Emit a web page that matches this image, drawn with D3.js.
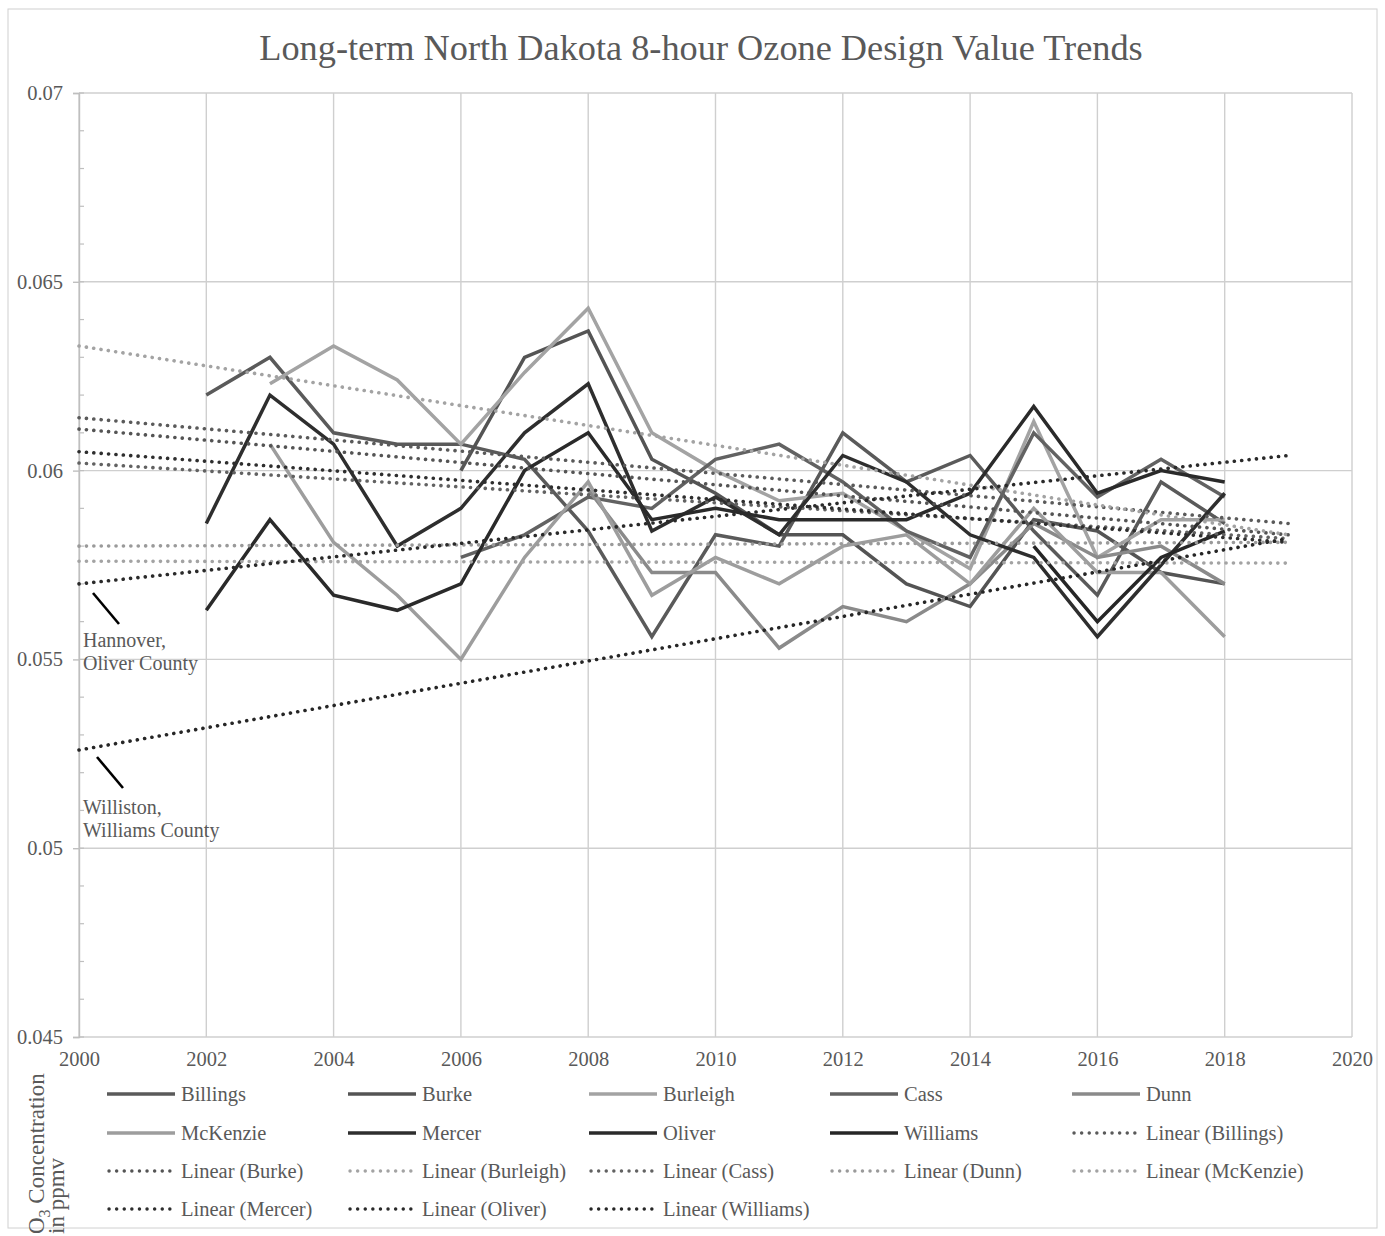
<!DOCTYPE html>
<html><head><meta charset="utf-8">
<script src="https://cdn.jsdelivr.net/npm/d3@7"></script>
<style>body{margin:0;background:#fff}svg{display:block}text{font-family:"Liberation Serif","Times New Roman",serif;fill:#595959}</style>
</head><body><svg id="c" width="1385" height="1236"></svg>
<script>
const years = [2002,2003,2004,2005,2006,2007,2008,2009,2010,2011,2012,2013,2014,2015,2016,2017,2018];
const seriesNames = ["Billings","Burke","Burleigh","Cass","Dunn","McKenzie","Mercer","Oliver","Williams"];
const billings = [0.0620,0.0630,0.0610,0.0607,0.0607,0.0603,0.0584,0.0556,0.0583,0.0580,0.0610,0.0597,0.0604,0.0584,0.0567,0.0597,0.0586];
const burke    = [null,null,null,null,0.0600,0.0630,0.0637,0.0603,0.0594,0.0583,0.0583,0.0570,0.0564,0.0587,0.0584,0.0573,0.0570];
const burleigh = [null,0.0623,0.0633,0.0624,0.0607,0.0626,0.0643,0.0610,0.0600,0.0592,0.0594,0.0584,0.0574,0.0613,0.0577,0.0587,0.0587];
const cass     = [null,null,null,null,0.0577,0.0583,0.0593,0.0590,0.0603,0.0607,0.0597,0.0584,0.0577,0.0610,0.0593,0.0603,0.0593];
const dunn     = [null,null,null,null,null,null,0.0595,0.0573,0.0573,0.0553,0.0564,0.0560,0.0570,0.0586,0.0577,0.0580,0.0570];
const mckenzie = [null,0.0607,0.0581,0.0567,0.0550,0.0577,0.0597,0.0567,0.0577,0.0570,0.0580,0.0583,0.0570,0.0590,0.0573,0.0573,0.0556];
const mercer   = [0.0586,0.0620,0.0607,0.0580,0.0590,0.0610,0.0623,0.0584,0.0593,0.0583,0.0604,0.0597,0.0583,0.0577,0.0556,0.0575,0.0594];
const oliver   = [0.0563,0.0587,0.0567,0.0563,0.0570,0.0600,0.0610,0.0587,0.0590,0.0587,0.0587,0.0587,0.0594,0.0617,0.0594,0.0600,0.0597];
const williams = [null,null,null,null,null,null,null,null,null,null,null,null,null,0.0580,0.0560,0.0577,0.0584];
// trend lines: value at trendYears[0] and trendYears[1]
const trendYears = [2000,2019];
const trendStart = [0.0614,0.0611,0.0633,0.0602,0.0580,0.0576,0.0605,0.0570,0.0526];
const trendEnd   = [0.0586,0.0583,0.0583,0.0582,0.0581,0.05755,0.0581,0.0604,0.0582];
const xTicks = [2000,2002,2004,2006,2008,2010,2012,2014,2016,2018,2020];
const yTicks = [0.045,0.05,0.055,0.06,0.065,0.07];
const yTickLabels = ["0.045","0.05","0.055","0.06","0.065","0.07"];

const seriesValues = [billings,burke,burleigh,cass,dunn,mckenzie,mercer,oliver,williams];
const lineColors  = ["#5a5a5a","#545454","#a3a3a3","#626262","#8a8a8a","#9d9d9d","#2e2e2e","#2a2a2a","#262626"];
const trendColors = ["#5a5a5a","#545454","#a3a3a3","#626262","#9a9a9a","#a3a3a3","#2e2e2e","#2a2a2a","#262626"];

const svg = d3.select("#c");
const x = d3.scaleLinear().domain([2000,2020]).range([79,1352]);
const y = d3.scaleLinear().domain([0.045,0.07]).range([1037,93]);

// outer frame
svg.append("rect").attr("x",8).attr("y",9).attr("width",1369).attr("height",1219)
  .attr("fill","none").attr("stroke","#d0d0d0").attr("stroke-width",1);

// title
svg.append("text").attr("x",701).attr("y",60).attr("text-anchor","middle")
  .style("font-size","36.3px").text("Long-term North Dakota 8-hour Ozone Design Value Trends");

// gridlines
const g = svg.append("g");
g.selectAll(".vg").data(xTicks).join("line")
  .attr("x1",d=>x(d)).attr("x2",d=>x(d)).attr("y1",y(0.07)).attr("y2",y(0.045))
  .attr("stroke","#cfcfcf").attr("stroke-width",1.4);
g.selectAll(".hg").data(yTicks).join("line")
  .attr("x1",x(2000)).attr("x2",x(2020)).attr("y1",d=>y(d)).attr("y2",d=>y(d))
  .attr("stroke","#cfcfcf").attr("stroke-width",1.4);

// y axis with major (outside) and minor (inside) ticks
const yAxis = d3.axisLeft(y).tickValues(yTicks).tickSize(6).tickFormat((d,i)=>yTickLabels[i]).tickPadding(10);
const ya = svg.append("g").attr("transform",`translate(${x(2000)},0)`).call(yAxis);
ya.select(".domain").attr("stroke","#bfbfbf").attr("stroke-width",1.4);
ya.selectAll(".tick line").attr("stroke","#bfbfbf").attr("stroke-width",1.4);
ya.selectAll(".tick text").style("font-size","20.5px").style("font-family","Liberation Serif").attr("fill","#595959");
const minor = d3.range(0,26).map(i=>0.045+i*0.001);
svg.append("g").selectAll("line").data(minor).join("line")
  .attr("x1",x(2000)).attr("x2",x(2000)+5).attr("y1",d=>y(d)).attr("y2",d=>y(d))
  .attr("stroke","#bfbfbf").attr("stroke-width",1.2);

// x axis labels
const xAxis = d3.axisBottom(x).tickValues(xTicks).tickSize(0).tickFormat(d3.format("d")).tickPadding(14);
const xa = svg.append("g").attr("transform",`translate(0,${y(0.045)})`).call(xAxis);
xa.select(".domain").remove();
xa.selectAll(".tick text").style("font-size","20.5px").style("font-family","Liberation Serif").attr("fill","#595959");

// series lines
const line = d3.line().defined(d=>d[1]!==null).x(d=>x(d[0])).y(d=>y(d[1]));
seriesValues.forEach((vals,i)=>{
  svg.append("path").datum(years.map((yr,j)=>[yr,vals[j]]))
    .attr("d",line).attr("fill","none").attr("stroke",lineColors[i])
    .attr("stroke-width",3.5).attr("stroke-linejoin","miter");
});
// trend lines
seriesNames.forEach((n,i)=>{
  svg.append("path").datum([[trendYears[0],trendStart[i]],[trendYears[1],trendEnd[i]]])
    .attr("d",line).attr("fill","none").attr("stroke",trendColors[i])
    .attr("stroke-width",3.6).attr("stroke-linecap","round").attr("stroke-dasharray","0.1 7.3");
});

// annotations
function annot(lines, x0, y0, lx1, ly1, lx2, ly2){
  svg.append("line").attr("x1",lx1).attr("y1",ly1).attr("x2",lx2).attr("y2",ly2)
    .attr("stroke","#000").attr("stroke-width",2.6);
  lines.forEach((t,k)=>svg.append("text").attr("x",x0).attr("y",y0+k*22.5).style("font-size","20px").attr("fill","#444").text(t));
}
annot(["Hannover,","Oliver County"],83,647,93,593,119,624);
annot(["Williston,","Williams County"],83,814,97,757,123,788);

// axis title (rotated)
const at = svg.append("text").attr("transform","translate(44,1234) rotate(-90)").style("font-size","23px");
at.append("tspan").text("O");
at.append("tspan").attr("dy",6).style("font-size","16px").text("3");
at.append("tspan").attr("dy",-6).text(" Concentration");
svg.append("text").attr("transform","translate(64,1234) rotate(-90)").style("font-size","23px").text("in ppmv");

// legend
const legendNames = seriesNames.concat(seriesNames.map(n=>`Linear (${n})`));
const colX = [107,348,589,830,1072];
const rowY = [1094,1133,1171,1209];
legendNames.forEach((n,k)=>{
  const c = k%5, r = Math.floor(k/5);
  const lx = colX[c], ly = rowY[r];
  const isTrend = k>=9, idx = k%9;
  const ln = svg.append("line").attr("x1",lx).attr("x2",lx+68).attr("y1",ly).attr("y2",ly);
  if(isTrend){
    ln.attr("stroke",trendColors[idx]).attr("stroke-width",3.4).attr("stroke-linecap","round").attr("stroke-dasharray","0.1 7.5")
      .attr("x1",lx+2).attr("x2",lx+66);
  } else {
    ln.attr("stroke",lineColors[idx]).attr("stroke-width",3.4);
  }
  svg.append("text").attr("x",lx+74).attr("y",ly+7).style("font-size","20.5px").text(n);
});
</script></body></html>
